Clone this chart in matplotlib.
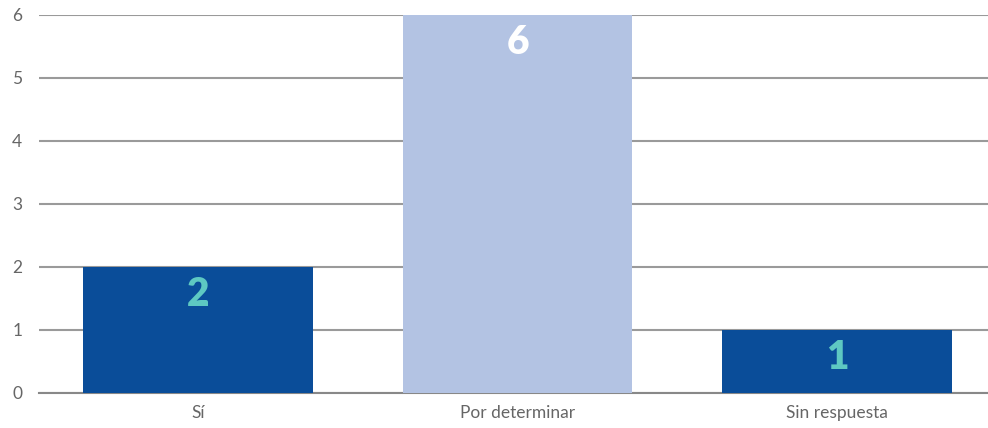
import matplotlib.pyplot as plt
import numpy as np

categories = ['Sí', 'Por determinar', 'Sin respuesta']
values = [2, 6, 1]
colors = ['#0a4d99', '#b3c3e3', '#0a4d99']
label_colors = ['#5ec8c2', '#ffffff', '#5ec8c2']

plt.rcParams['font.family'] = ['Lato', 'DejaVu Sans']

fig = plt.figure(figsize=(9.88, 4.28), dpi=100)
ax = fig.add_axes([0.0395, 0.0818, 0.9605, 0.8842])

x = np.arange(len(categories))
ax.bar(x, values, width=0.72, color=colors, zorder=3)

for xi, v, c in zip(x, values, label_colors):
    ax.annotate(str(v), (xi, v), xytext=(0, -28), textcoords='offset pixels',
                ha='center', va='center', fontsize=28, fontweight='heavy',
                color=c, zorder=4)

ax.set_xlim(-0.498, 2.473)
ax.set_ylim(0, 6)
ax.set_yticks(range(0, 7))
ax.yaxis.grid(True, color='#9a9a9a', linewidth=1.5, zorder=0)
ax.set_xticks(x)
ax.set_xticklabels(categories)

for s in ['top', 'right', 'left']:
    ax.spines[s].set_visible(False)
ax.spines['bottom'].set_color('#888888')
ax.spines['bottom'].set_linewidth(1.5)
ax.tick_params(axis='both', length=0, colors='#666666', labelsize=12.5)
ax.tick_params(axis='x', pad=9)
ax.tick_params(axis='y', pad=12)

fig.savefig('out.png', dpi=100)
